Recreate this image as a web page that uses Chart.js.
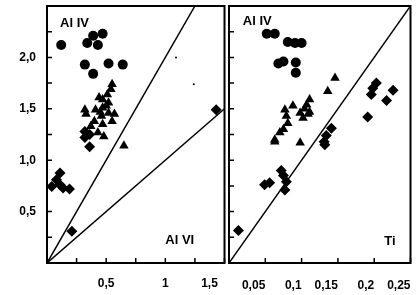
<!DOCTYPE html>
<html>
<head>
<meta charset="utf-8">
<script src="https://cdn.jsdelivr.net/npm/chart.js@4.4.0/dist/chart.umd.min.js"></script>
<style>
  html, body { margin: 0; padding: 0; background: #fff; }
  #wrap { position: relative; width: 416px; height: 295px; overflow: hidden; }
  .panel { position: absolute; top: 0; height: 295px; }
  #left { left: 0; width: 230px; }
  #right { left: 219px; width: 197px; }
</style>
</head>
<body>
<div id="wrap">
  <div class="panel" id="left"><canvas id="chart-alvi"></canvas></div>
  <div class="panel" id="right"><canvas id="chart-ti"></canvas></div>
</div>
<script>
// Dados: [x, Al IV]
// painel esquerdo: x = Al VI
const alviCircles = [[0.12, 2.12], [0.34, 2.14], [0.39, 2.21], [0.47, 2.23], [0.43, 2.12],
  [0.32, 1.93], [0.39, 1.84], [0.52, 1.94], [0.64, 1.93]];
const alviTriangles = [[0.55, 1.74], [0.54, 1.69], [0.51, 1.64], [0.47, 1.59], [0.44, 1.61],
  [0.52, 1.56], [0.32, 1.49], [0.33, 1.45], [0.41, 1.49], [0.47, 1.51], [0.52, 1.46],
  [0.57, 1.45], [0.55, 1.38], [0.46, 1.43], [0.40, 1.38], [0.37, 1.33], [0.47, 1.35],
  [0.43, 1.27], [0.48, 1.23], [0.65, 1.14], [0.45, 1.47], [0.50, 1.53]];
const alviDiamonds = [[0.32, 1.28], [0.32, 1.22], [0.36, 1.13], [0.36, 1.25],
  [0.04, 0.745], [0.08, 0.81], [0.11, 0.875], [0.136, 0.73], [0.19, 0.72], [0.11, 0.76],
  [0.21, 0.31], [1.43, 1.49]];
const alviSpecks = [[1.09, 2.0], [1.24, 1.74]];

// painel direito: x = Ti
const tiCircles = [[0.052, 2.23], [0.063, 2.23], [0.081, 2.15], [0.091, 2.14], [0.100, 2.14],
  [0.068, 1.94], [0.075, 1.96], [0.092, 1.95], [0.092, 1.85]];
const tiTriangles = [[0.146, 1.80], [0.136, 1.67], [0.111, 1.59], [0.107, 1.54], [0.088, 1.53],
  [0.077, 1.49], [0.098, 1.46], [0.109, 1.45], [0.079, 1.43], [0.102, 1.41], [0.081, 1.36],
  [0.075, 1.30], [0.070, 1.27], [0.063, 1.20], [0.098, 1.17], [0.063, 1.18], [0.111, 1.47],
  [0.104, 1.50]];
const tiDiamonds = [[0.203, 1.75], [0.198, 1.70], [0.196, 1.64], [0.226, 1.68], [0.217, 1.58],
  [0.191, 1.42], [0.141, 1.31], [0.134, 1.24], [0.131, 1.18], [0.132, 1.15],
  [0.049, 0.76], [0.056, 0.78], [0.072, 0.90], [0.075, 0.85], [0.079, 0.79], [0.077, 0.71],
  [0.013, 0.315]];

// retas de referência
const lineAl2 = [[0, 0], [1.25, 2.5]];
const lineAl1 = [[0, 0], [1.5, 1.5]];
const lineTi = [[0, 0], [0.25, 2.5]];

// rótulos dos eixos
const yTickLabels = { 0.5: '0,5', 1: '1,0', 1.5: '1,5', 2: '2,0' };
const alviTickLabels = { 0.5: '0,5', 1: '1', 1.5: '1,5\u2003\u2003\u2002' };
const tiTickLabels = { 0.05: '0,05', 0.1: '0,1', 0.15: '0,15', 0.2: '0,2', 0.25: '0,25' };

Chart.defaults.font.family = "'Liberation Sans', Arial, sans-serif";
Chart.defaults.font.size = 12;
Chart.defaults.font.weight = 'bold';
Chart.defaults.color = '#000';

const toXY = (arr) => arr.map(([x, y]) => ({ x, y }));
const round = (v) => Math.round(v * 1000) / 1000;

const marks = (data, style, r) => ({
    data: toXY(data),
    pointStyle: style,
    pointRadius: r,
    backgroundColor: '#000',
    borderColor: '#000',
    borderWidth: 0
});
const refLine = (data) => ({
    data: toXY(data),
    showLine: true,
    pointRadius: 0,
    borderColor: '#000',
    borderWidth: 1.5
});

// moldura, marcas dos ticks (para dentro) e textos dos eixos
const frame = {
    id: 'frame',
    afterDatasetsDraw(chart) {
        const { ctx, chartArea: a, scales } = chart;
        ctx.save();
        ctx.strokeStyle = '#000';
        ctx.lineWidth = 2;
        ctx.strokeRect(a.left, a.top, a.right - a.left, a.bottom - a.top);
        ctx.lineWidth = 1.5;
        ctx.beginPath();
        scales.x.ticks.forEach(t => {
            const px = scales.x.getPixelForValue(t.value);
            ctx.moveTo(px, a.bottom);
            ctx.lineTo(px, a.bottom - 5);
        });
        scales.y.ticks.forEach(t => {
            const py = scales.y.getPixelForValue(t.value);
            ctx.moveTo(a.left, py);
            ctx.lineTo(a.left + 5, py);
        });
        ctx.stroke();
        ctx.restore();
    }
};
const axisNames = {
    id: 'axisNames',
    afterDraw(chart, args, opts) {
        const { ctx, scales } = chart;
        ctx.save();
        ctx.fillStyle = '#000';
        ctx.font = "bold 13px 'Liberation Sans', Arial, sans-serif";
        ctx.textBaseline = 'alphabetic';
        opts.items.forEach(t => {
            ctx.fillText(t.text, scales.x.getPixelForValue(t.x), scales.y.getPixelForValue(t.y));
        });
        ctx.restore();
    }
};

const fixSize = (w, h) => (s) => {
    if (w !== null) s.width = w;
    if (h !== null) s.height = h;
    s.paddingLeft = s.paddingRight = s.paddingTop = s.paddingBottom = 0;
};
const gridOpts = { drawOnChartArea: false, drawTicks: false };
const borderOpts = { color: '#000', width: 2 };

const yAxis = (w, labels) => ({
    type: 'linear', min: 0, max: 2.5,
    afterFit: fixSize(w, null),
    border: borderOpts,
    grid: gridOpts,
    ticks: { stepSize: 0.25, autoSkip: false, padding: 11,
        callback: v => labels ? (labels[round(v)] || '') : '' }
});

// Painel 1: Al IV x Al VI
new Chart(document.getElementById('chart-alvi'), {
    type: 'scatter',
    data: {
        datasets: [
            refLine(lineAl2),
            refLine(lineAl1),
            marks(alviCircles, 'circle', 5),
            marks(alviTriangles, 'triangle', 5.5),
            marks(alviDiamonds, 'rectRot', 5.5),
            marks(alviSpecks, 'circle', 1)
        ]
    },
    options: {
        responsive: true,
        maintainAspectRatio: false,
        animation: false,
        layout: { padding: { top: 6, right: 1, left: 0, bottom: 0 } },
        plugins: {
            legend: { display: false },
            tooltip: { enabled: false },
            axisNames: { items: [
                { text: 'Al IV', x: 0.11, y: 2.30 },
                { text: 'Al VI', x: 1.0, y: 0.185 }
            ] }
        },
        scales: {
            x: {
                type: 'linear', min: 0, max: 1.5,
                afterFit: fixSize(null, 32),
                border: borderOpts,
                grid: gridOpts,
                ticks: { stepSize: 0.25, autoSkip: false, maxRotation: 0, padding: 13,
                    callback: v => alviTickLabels[round(v)] || '' }
            },
            y: yAxis(47, yTickLabels)
        }
    },
    plugins: [frame, axisNames]
});

// Painel 2: Al IV x Ti
new Chart(document.getElementById('chart-ti'), {
    type: 'scatter',
    data: {
        datasets: [
            refLine(lineTi),
            marks(tiCircles, 'circle', 5),
            marks(tiTriangles, 'triangle', 5.5),
            marks(tiDiamonds, 'rectRot', 5.5)
        ]
    },
    options: {
        responsive: true,
        maintainAspectRatio: false,
        animation: false,
        layout: { padding: { top: 6, right: 5, left: 0, bottom: 0 } },
        plugins: {
            legend: { display: false },
            tooltip: { enabled: false },
            axisNames: { items: [
                { text: 'Al IV', x: 0.019, y: 2.32 },
                { text: 'Ti', x: 0.214, y: 0.175 }
            ] }
        },
        scales: {
            x: {
                type: 'linear', min: 0, max: 0.25,
                afterFit: fixSize(null, 32),
                border: borderOpts,
                grid: gridOpts,
                ticks: { stepSize: 0.05, autoSkip: false, maxRotation: 0, padding: 15, align: 'end',
                    callback: v => tiTickLabels[round(v)] || '' }
            },
            y: yAxis(10, null)
        }
    },
    plugins: [frame, axisNames]
});
</script>
</body>
</html>
